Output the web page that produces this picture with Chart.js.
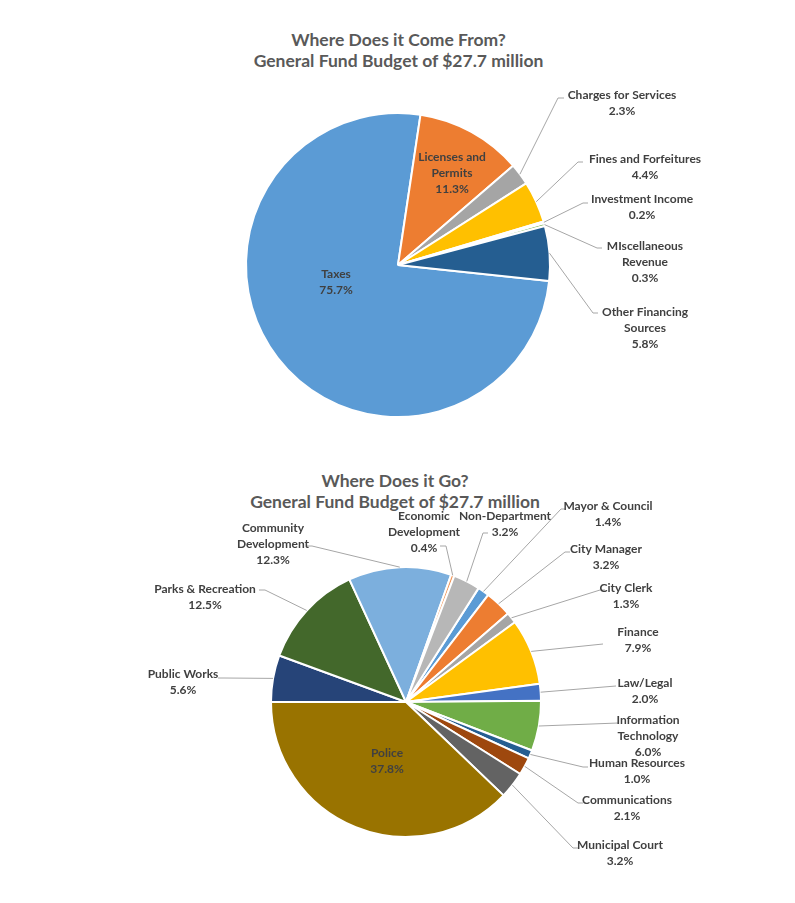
<!DOCTYPE html>
<html>
<head>
<meta charset="utf-8">
<script src="https://cdn.jsdelivr.net/npm/chart.js@4.4.1/dist/chart.umd.min.js"></script>
<style>
  body { margin: 0; background: #fff; }
  #wrap { position: relative; width: 795px; height: 903px; overflow: hidden; }
  #wrap canvas { position: absolute; left: 0; }
  .title {
    position: absolute; left: 0; text-align: center;
    font-family: Lato, 'Open Sans', sans-serif; font-weight: bold;
    font-size: 17.5px; line-height: 21px; color: #595959;
  }
</style>
</head>
<body>
<div id="wrap">
  <div class="title" style="top:29px;width:797px;">Where Does it Come From?<br>General Fund Budget of $27.7 million</div>
  <canvas id="incomeChart" width="795" height="450" style="top:0"></canvas>
  <div class="title" style="top:470px;width:790px;">Where Does it Go?<br>General Fund Budget of $27.7 million</div>
  <canvas id="spendChart" width="795" height="453" style="top:450px"></canvas>
</div>
<script>
'use strict';

// where it comes from (percent of $27.7M)
const incomeLabels = ['Taxes', 'Licenses and Permits', 'Charges for Services', 'Fines and Forfeitures',
  'Investment Income', 'MIscellaneous Revenue', 'Other Financing Sources'];
const incomeValues = [75.7, 11.3, 2.3, 4.4, 0.2, 0.3, 5.8];
const incomeColors = ['#5b9bd5', '#ed7d31', '#a5a5a5', '#ffc000', '#4472c4', '#70ad47', '#255e91'];

// where it goes
const spendLabels = ['Mayor & Council', 'City Manager', 'City Clerk', 'Finance', 'Law/Legal',
  'Information Technology', 'Human Resources', 'Communications', 'Municipal Court', 'Police',
  'Public Works', 'Parks & Recreation', 'Community Development', 'Economic Development', 'Non-Department'];
const spendValues = [1.4, 3.2, 1.3, 7.9, 2.0, 6.0, 1.0, 2.1, 3.2, 37.8, 5.6, 12.5, 12.3, 0.4, 3.2];
const spendColors = ['#5b9bd5', '#ed7d31', '#a5a5a5', '#ffc000', '#4472c4', '#70ad47', '#255e91',
  '#9e480e', '#636363', '#997300', '#264478', '#43682b', '#7cafdd', '#f1975a', '#b7b7b7'];

// label placement (page coords): x/y = centre of first text line, elbow/end = leader line bend + tip
const incomeSpots = [
  { x: 336, y: 274, wrap: 200 },
  { x: 452, y: 157, wrap: 80 },
  { x: 622, y: 95, elbow: [558, 98], end: [564, 98] },
  { x: 645, y: 159, elbow: [578, 162], end: [583, 162] },
  { x: 642, y: 199, elbow: [583, 203], end: [588, 203] },
  { x: 645, y: 246, wrap: 95, elbow: [597, 248], end: [602, 248] },
  { x: 645, y: 312, wrap: 100, elbow: [593, 313], end: [598, 313] },
];
const spendSpots = [
  { x: 608, y: 506, elbow: [561, 509], end: [566, 509] },
  { x: 606, y: 549, elbow: [565, 552], end: [570, 552] },
  { x: 626, y: 588, elbow: [600, 590], end: [605, 590] },
  { x: 638, y: 632, elbow: [603, 644] },
  { x: 645, y: 683, elbow: [616, 686] },
  { x: 648, y: 720, wrap: 85, elbow: [618, 723] },
  { x: 637, y: 763, elbow: [583, 767], end: [588, 767] },
  { x: 627, y: 800, elbow: [578, 803], end: [583, 803] },
  { x: 620, y: 845, elbow: [573, 848], end: [579, 848] },
  { x: 387, y: 753, wrap: 200 },
  { x: 183, y: 674, elbow: [224, 678], end: [218, 678] },
  { x: 205, y: 589, elbow: [265, 590], end: [259, 590] },
  { x: 273, y: 528, wrap: 85, elbow: [312, 546], end: [307, 546] },
  { x: 424, y: 516, wrap: 85, elbow: [446, 546], end: [440, 546] },
  { x: 505, y: 516, elbow: [483, 533], end: [488, 533] },
];

function wrapText(ctx, text, maxWidth) {
  const words = text.split(' ');
  const lines = [];
  let cur = '';
  words.forEach(w => {
    const test = cur ? cur + ' ' + w : w;
    if (cur && ctx.measureText(test).width > maxWidth) {
      lines.push(cur);
      cur = w;
    } else {
      cur = test;
    }
  });
  if (cur) lines.push(cur);
  return lines;
}

const calloutPlugin = {
  id: 'callouts',
  afterDatasetsDraw(chart, args, opts) {
    const ctx = chart.ctx;
    const meta = chart.getDatasetMeta(0);
    const values = chart.data.datasets[0].data;
    const dy = opts.offsetY || 0;
    ctx.save();
    ctx.font = 'bold 12px Lato';
    ctx.textAlign = 'center';
    ctx.textBaseline = 'middle';
    meta.data.forEach((arc, i) => {
      const spot = opts.spots[i];
      if (!spot) return;
      if (spot.elbow) {
        const p = arc.getProps(['x', 'y', 'startAngle', 'endAngle', 'outerRadius'], true);
        const mid = (p.startAngle + p.endAngle) / 2;
        ctx.strokeStyle = '#a6a6a6';
        ctx.lineWidth = 1;
        ctx.beginPath();
        ctx.moveTo(p.x + Math.cos(mid) * p.outerRadius, p.y + Math.sin(mid) * p.outerRadius);
        ctx.lineTo(spot.elbow[0], spot.elbow[1] + dy);
        if (spot.end) ctx.lineTo(spot.end[0], spot.end[1] + dy);
        ctx.stroke();
      }
      const lines = wrapText(ctx, chart.data.labels[i], spot.wrap || 999);
      lines.push(Number(values[i]).toFixed(1) + '%');
      ctx.fillStyle = '#404040';
      lines.forEach((t, k) => ctx.fillText(t, spot.x, spot.y + dy + k * 16));
    });
    ctx.restore();
  },
};

function makePie(el, labels, values, colors, rotation, padding, spots, offsetY) {
  return new Chart(el, {
    type: 'pie',
    data: {
      labels,
      datasets: [{
        data: values,
        backgroundColor: colors,
        borderColor: '#ffffff',
        borderWidth: 2,
      }],
    },
    options: {
      responsive: false,
      animation: false,
      rotation,
      layout: { padding },
      plugins: {
        legend: { display: false },
        tooltip: { enabled: false },
        callouts: { spots, offsetY },
      },
    },
    plugins: [calloutPlugin],
  });
}

makePie(document.getElementById('incomeChart'), incomeLabels, incomeValues, incomeColors, 96,
  { top: 112, bottom: 32, left: 1, right: 0 }, incomeSpots, 0);
makePie(document.getElementById('spendChart'), spendLabels, spendValues, spendColors, 32.5,
  { top: 116, bottom: 65, left: 17, right: 0 }, spendSpots, -450);
</script>
</body>
</html>
